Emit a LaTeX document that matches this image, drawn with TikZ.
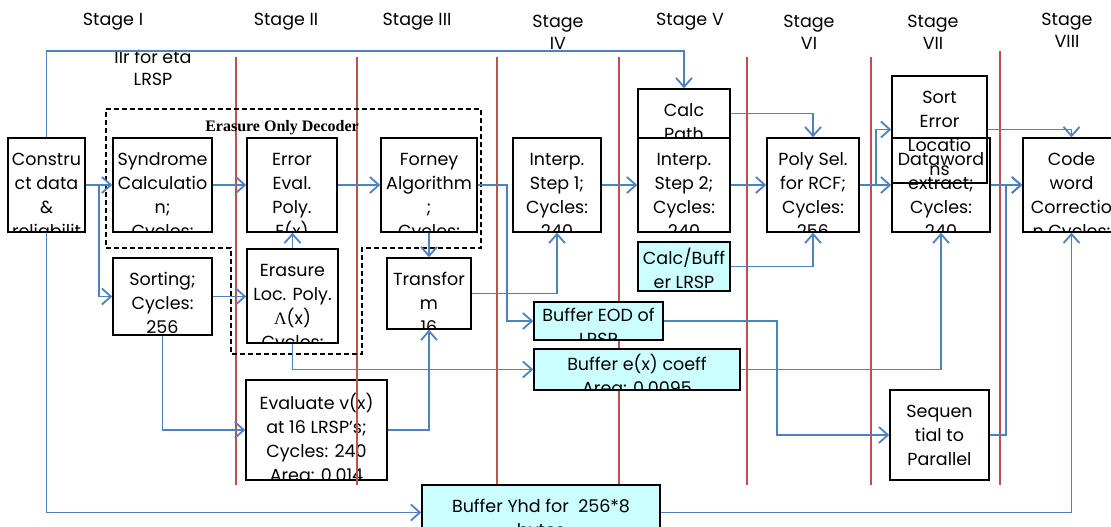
\documentclass[tikz,border=0pt]{standalone}
\usepackage{fontspec}
\setmainfont{Poppins}
\newfontfamily\timesfont{Liberation Serif}
\usetikzlibrary{arrows.meta}
\definecolor{lineBlue}{RGB}{79,129,189}
\definecolor{stageRed}{RGB}{192,80,77}
\definecolor{bufCyan}{RGB}{204,255,255}
\newcommand{\txtdrop}{12pt}
\newcommand{\boxfont}{\fontsize{17.5}{24}\selectfont}
\newcommand{\lam}{{\timesfont Λ}}

\begin{document}
\begin{tikzpicture}[x=1pt, y=-1pt,
  blk/.style={draw, line width=1.5pt, inner sep=0pt,
    path picture={\node[anchor=north, inner sep=0pt, align=center, font=\boxfont,
        draw=none, fill=none, minimum width=0pt, minimum height=0pt]
      at ([yshift=-\txtdrop]path picture bounding box.north) {\rule{0pt}{15pt}#1};}},
  buf/.style={blk={#1}, fill=bufCyan},
  drop/.code={\renewcommand{\txtdrop}{#1}},
  wh/.style 2 args={minimum width=#1pt, minimum height=#2pt},
  stage/.style={align=center, font=\fontsize{17.5}{22}\selectfont, inner sep=0pt},
  divider/.style={stageRed, line width=1.2pt},
  conn/.style={lineBlue, line width=1.8pt, -{Straight Barb[length=9pt,width=16pt]}}]
\useasboundingbox (0,0) rectangle (1111,527);

% Stage titles
\node[stage] (s1) at (113,22) {Stage I};
\node[stage] (s2) at (286,22) {Stage II};
\node[stage] (s3) at (417,22) {Stage III};
\node[stage] (s4) at (558,32) {Stage\\IV};
\node[stage] (s5) at (690,22) {Stage V};
\node[stage] (s6) at (809,32) {Stage\\VI};
\node[stage] (s7) at (933,32) {Stage\\VII};
\node[stage] (s8) at (1067,30) {Stage\\VIII};
\node[stage] (llr) at (153,68) {llr for eta\\LRSP};

% Plain blocks
\node[blk={Constru\\ct data\\\&\\reliabilit\\y}, wh={77}{94}] (cons) at (46.5,185) {};
\node[blk={Syndrome\\Calculatio\\n;\\Cycles:}, wh={99}{94}] (synd) at (162.5,185) {};
\node[blk={Error\\Eval.\\Poly.\\E(x)}, wh={90}{94}] (eval) at (292,185) {};
\node[blk={Forney\\Algorithm\\;\\Cycles:}, wh={96}{94}] (forney) at (429,185) {};
\node[blk={Interp.\\Step 1;\\Cycles:\\240}, wh={88}{94}] (interpa) at (557,185) {};
\node[blk={Calc\\Path}, wh={92}{49}] (calcpath) at (684,113.5) {};
\node[blk={Interp.\\Step 2;\\Cycles:\\240}, wh={92}{94}] (interpb) at (684,185) {};
\node[blk={Poly Sel.\\for RCF;\\Cycles:\\256}, wh={92}{94}] (polysel) at (813,185) {};
\node[blk={Sort\\Error\\Locatio\\ns}, wh={95}{107}] (sorterr) at (939.5,129.5) {};
\node[blk={Dataword\\extract;\\Cycles:\\240}, wh={98}{94}] (dataword) at (941,185) {};
\node[blk={Code\\word\\Correctio\\n Cycles:}, wh={97}{94}] (codeword) at (1071.5,185) {};
\node[blk={Sorting;\\Cycles:\\256}, wh={99}{77}] (sorting) at (162.5,296.5) {};
\node[blk={Erasure\\Loc. Poly.\\\lam(x)\\Cycles:}, wh={91}{94}] (erasloc) at (292.5,296) {};
\node[blk={Transfor\\m\\16}, wh={84}{71}] (transf) at (429,293.5) {};
\node[blk={Evaluate v(x)\\at 16 LRSP's;\\Cycles: 240\\Area: 0.014}, wh={141}{100}] (evalv) at (316.5,430) {};
\node[blk={Sequen\\tial to\\Parallel}, wh={99}{90}] (seqpar) at (939.5,435) {};

% Stage borders
\foreach \x in {236,357,497,619,747,871}
  \draw[divider] (\x,57) -- (\x,485);
\draw[divider] (1000,51) -- (1000,485);

% Buffers
\node[buf={Calc/Buff\\er LRSP}, drop=5pt, wh={92}{49}] (calcbuf) at (684,266.5) {};
\node[buf={Buffer EOD of\\LRSP}, drop=4pt, wh={129}{38}] (bufeod) at (598.5,321) {};
\node[buf={Buffer e(x) coeff\\Area: 0.0095}, drop=4pt, wh={206}{41}] (bufex) at (637,369.5) {};
\node[buf={Buffer Yhd for~~256*8\\bytes}, wh={238}{55}] (bufyhd) at (541,512.5) {};

% Erasure only decoder
\draw[dash pattern=on 5pt off 3pt, line width=1.3pt] (106,109) -- (481,109) -- (481,248)
  -- (362,248) -- (362,354) -- (231,354) -- (231,248) -- (106,248) -- cycle;
\node[font=\timesfont\bfseries\fontsize{16}{18}\selectfont] (eod) at (282,128) {Erasure Only Decoder};

% Connections
\draw[conn] (cons.north) -- (cons.north |- 0,51) -| (calcpath.north);
\draw[conn] (cons.east) -- (synd.west);
\draw[conn] ([xshift=13pt]cons.east) |- (sorting.west);
\draw[conn] (cons.south) |- (bufyhd.west);
\draw[conn] (synd.east) -- (eval.west);
\draw[conn] (eval.east) -- (forney.west);
\draw[conn] (sorting.east) -- (sorting.east -| erasloc.west);
\draw[conn] (erasloc.north) -- (erasloc.north |- eval.south);
\draw[conn] (sorting.south) |- (evalv.west);
\draw[conn] (erasloc.south) |- (bufex.west);
\draw[conn] (forney.east) -- ++(29,0) |- (bufeod.west);
\draw[conn] (forney.south) -- (transf.north);
\draw[conn] (transf.east) -| (interpa.south);
\draw[conn] (evalv.east) -| (transf.south);
\draw[conn] (interpa.east) -- (interpb.west);
\draw[conn] (calcpath.east) -| (polysel.north);
\draw[conn] (interpb.east) -- (polysel.west);
\draw[conn] (calcbuf.east) -| (polysel.south);
\draw[conn] (polysel.east) -- (dataword.west);
\draw[conn] ([xshift=16pt]polysel.east) |- (sorterr.west);
\draw[conn] (sorterr.east) -| (codeword.north);
\draw[conn] (dataword.east) -- (codeword.west);
\draw[conn] (seqpar.east) -- ++(16,0) |- (codeword.west);
\draw[conn] (bufeod.east) -- ++(113,0) |- (seqpar.west);
\draw[conn] (bufex.east) -| (dataword.south);
\draw[conn] (bufyhd.east) -| (codeword.south);
\end{tikzpicture}
\end{document}
